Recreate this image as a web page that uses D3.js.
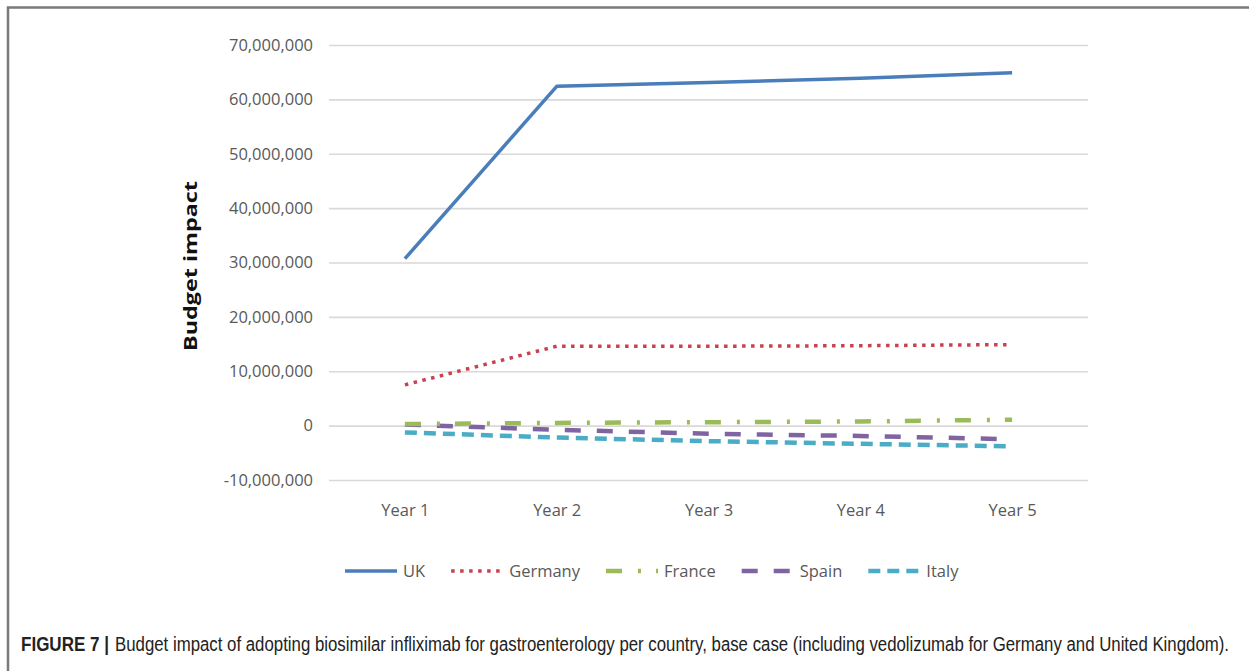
<!DOCTYPE html>
<html>
<head>
<meta charset="utf-8">
<script src="https://cdn.jsdelivr.net/npm/d3@7"></script>
<style>
  html, body { margin: 0; padding: 0; background: #fff; }
  svg { display: block; }
</style>
</head>
<body>
<svg id="chart" width="1249" height="671"></svg>
<script>
// Budget impact per country, years 1-5
const years = ["Year 1", "Year 2", "Year 3", "Year 4", "Year 5"];
const ukValues      = [30700000, 62400000, 63100000, 63900000, 64900000];
const germanyValues = [7500000, 14600000, 14600000, 14700000, 14900000];
const franceValues  = [300000, 500000, 630000, 760000, 1100000];
const spainValues   = [200000, -760000, -1500000, -1900000, -2500000];
const italyValues   = [-1250000, -2200000, -2850000, -3350000, -3800000];
const yTicks = [-10000000, 0, 10000000, 20000000, 30000000, 40000000, 50000000, 60000000, 70000000];
const countryNames = ["UK", "Germany", "France", "Spain", "Italy"];

const series = [
  { name: countryNames[0], values: ukValues,      color: "#4a7ebb", width: 3.5, dash: null },
  { name: countryNames[1], values: germanyValues, color: "#c9404f", width: 3.5, dash: "3.5,5.5" },
  { name: countryNames[2], values: franceValues,  color: "#9bbb59", width: 4.5, dash: "16,16,3,15" },
  { name: countryNames[3], values: spainValues,   color: "#8064a2", width: 4.5, dash: "16,16" },
  { name: countryNames[4], values: italyValues,   color: "#4bacc6", width: 4.5, dash: "12,7" }
];

const svg = d3.select("#chart");
const plot = { left: 329, right: 1088, top: 45, bottom: 480 };
const textGray = "#595959";
const font = "'Open Sans', sans-serif";

// figure frame (left and top edges)
svg.append("path")
  .attr("d", "M8,671 V7.5 H1249")
  .attr("fill", "none")
  .attr("stroke", "#7a7a7a")
  .attr("stroke-width", 2.5);

const x = d3.scalePoint().domain(years).range([plot.left, plot.right]).padding(0.5);
const y = d3.scaleLinear().domain([-10000000, 70000000]).range([plot.bottom, plot.top]);

const fmt = d => (d < 0 ? "-" : "") + d3.format(",")(Math.abs(d));

// y axis with gridlines
const yAxis = svg.append("g")
  .attr("transform", `translate(${plot.left},0)`)
  .call(d3.axisLeft(y).tickValues(yTicks).tickFormat(fmt)
    .tickSize(-(plot.right - plot.left)).tickPadding(16));
yAxis.select(".domain").remove();
yAxis.selectAll(".tick line").attr("stroke", "#d9d9d9").attr("stroke-width", 1.6);
yAxis.selectAll(".tick text")
  .attr("fill", textGray)
  .style("font-family", font)
  .style("font-size", "16.5px");

// x axis labels
const xAxis = svg.append("g")
  .attr("transform", `translate(0,${plot.bottom})`)
  .call(d3.axisBottom(x).tickSize(0).tickPadding(24));
xAxis.select(".domain").remove();
xAxis.selectAll(".tick text")
  .attr("fill", textGray)
  .style("font-family", font)
  .style("font-size", "16.5px");

// y axis title
svg.append("text")
  .attr("transform", "translate(197,266) rotate(-90)")
  .attr("text-anchor", "middle")
  .attr("textLength", 170)
  .attr("lengthAdjust", "spacingAndGlyphs")
  .style("font-family", font)
  .style("font-weight", "bold")
  .style("font-size", "17px")
  .attr("fill", "#111")
  .text("Budget impact");

// series lines
const line = d3.line()
  .x((d, i) => x(years[i]))
  .y(d => y(d));

svg.append("g").selectAll("path")
  .data(series.slice().reverse())
  .join("path")
  .attr("d", d => line(d.values))
  .attr("fill", "none")
  .attr("stroke", d => d.color)
  .attr("stroke-width", d => d.width)
  .attr("stroke-dasharray", d => d.dash)
  .attr("stroke-linejoin", "round");

// legend
const legend = svg.append("g").attr("transform", "translate(345,571)");
let lx = 0;
series.forEach(s => {
  legend.append("line")
    .attr("x1", lx).attr("x2", lx + 52)
    .attr("y1", 0).attr("y2", 0)
    .attr("stroke", s.color)
    .attr("stroke-width", s.width)
    .attr("stroke-dasharray", s.dash);
  const t = legend.append("text")
    .attr("x", lx + 58)
    .attr("y", 0)
    .attr("dy", "0.35em")
    .attr("fill", textGray)
    .style("font-family", font)
    .style("font-size", "16.5px")
    .text(s.name);
  lx += 58 + t.node().getComputedTextLength() + 26;
});

// caption: condensed look via a vertical stretch of a smaller face
const capFont = "'Liberation Sans', Arial, sans-serif";
function captionText(px, len, weight, str) {
  return svg.append("text")
    .attr("transform", `translate(${px},651) scale(1,1.25)`)
    .attr("textLength", len)
    .attr("lengthAdjust", "spacingAndGlyphs")
    .attr("fill", "#222")
    .style("font-family", capFont)
    .style("font-weight", weight)
    .style("font-size", "16px")
    .text(str);
}
captionText(21, 88, "bold", "FIGURE 7 |");
captionText(115, 1114, "normal",
  "Budget impact of adopting biosimilar infliximab for gastroenterology per country, base case (including vedolizumab for Germany and United Kingdom).");
</script>
</body>
</html>
